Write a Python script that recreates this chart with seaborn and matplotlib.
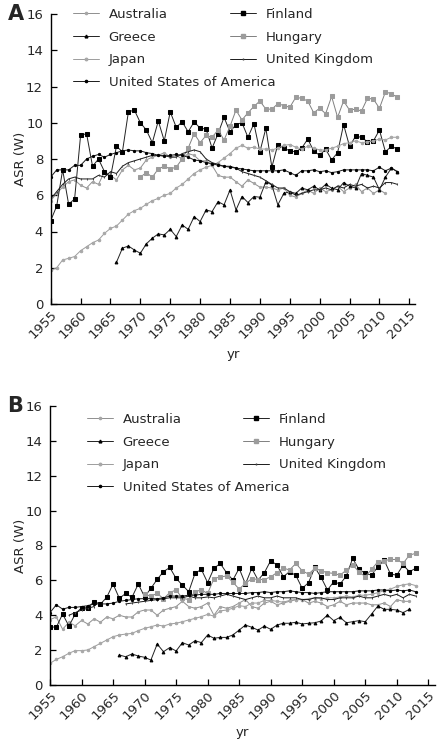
import numpy as np
import pandas as pd
import matplotlib
matplotlib.use("Agg")
import matplotlib.pyplot as plt
import seaborn as sns
from matplotlib.lines import Line2D

sns.set_theme(style="ticks")
plt.rcParams['font.family'] = ['DejaVu Sans']

N = np.nan
years = list(range(1955, 2014))
xticks = list(range(1955, 2016, 5))
yticks = list(range(0, 17, 2))
countries = ["Australia", "Finland", "Greece", "Hungary", "Japan",
             "United Kingdom", "United States of America"]

# ---------------- Panel A ----------------
aus_a = [5.7, 6.1, 6.45, 6.75, 6.85, 6.55, 6.4, 6.75, 6.6, 7.3,
         7.1, 6.85, 7.4, 7.65, 7.4, 7.5, 7.95, 8.1, 8.2, 8.35,
         8.1, 8.2, 8.0, 8.3, 8.2, 7.9, 7.9, 7.65, 7.1, 7.0,
         7.0, 6.75, 6.5, 6.85, 6.65, 6.45, 6.45, 6.4, 6.3, 6.4,
         6.0, 5.9, 6.1, 6.3, 6.1, 6.4, 6.2, 6.3, 6.5, 6.2,
         6.4, 6.6, 6.2, 6.4, 6.1, 6.3, 6.1, N, N]
fin_a = [4.6, 5.4, 7.4, 5.5, 5.8, 9.3, 9.4, 7.6, 8.0, 7.3,
         7.0, 8.7, 8.4, 10.6, 10.7, 10.0, 9.6, 8.9, 10.1, 9.0,
         10.6, 9.75, 10.05, 9.5, 10.05, 9.7, 9.65, 8.6, 9.4, 10.3,
         9.5, 9.9, 10.0, 9.2, 9.95, 8.4, 9.7, 7.55, 8.8, 8.6,
         8.45, 8.4, 8.6, 9.1, 8.45, 8.2, 8.55, 7.95, 8.35, 9.9,
         8.7, 9.25, 9.2, 8.95, 9.0, 9.6, 8.4, 8.7, 8.55]
gre_a = [N] * 11 + [2.3, 3.08, 3.2, 2.98, 2.8, 3.32, 3.63, 3.87, 3.81,
         4.12, 3.72, 4.36, 4.12, 4.82, 4.55, 5.19, 5.1, 5.65, 5.47,
         6.29, 5.19, 5.93, 5.6, 5.93, 5.89, 6.75, 6.57, 5.47, 6.1,
         6.2, 6.1, 6.4, 6.3, 6.5, 6.3, 6.6, 6.4, 6.3, 6.7,
         6.5, 6.4, 7.2, 7.1, 7.0, 6.3, 7.0, 7.5, 7.3]
hun_a = [N] * 15 + [7.0, 7.25, 7.0, 7.45, 7.6,
         7.45, 7.55, 8.0, 8.6, 9.4, 8.9, 9.3, 9.2, 9.6, 9.05,
         9.8, 10.7, 10.15, 10.55, 10.9, 11.2, 10.75, 10.75, 11.05, 10.95,
         10.85, 11.4, 11.35, 11.2, 10.55, 10.8, 10.5, 11.45, 10.3, 11.2,
         10.7, 10.75, 10.65, 11.35, 11.3, 10.8, 11.7, 11.6, 11.4]
jpn_a = [1.85, 2.0, 2.43, 2.52, 2.62, 2.94, 3.16, 3.38, 3.53, 3.9,
         4.17, 4.3, 4.63, 4.96, 5.15, 5.28, 5.5, 5.7, 5.83, 6.0,
         6.1, 6.4, 6.6, 6.9, 7.2, 7.4, 7.55, 7.65, 7.8, 8.05,
         8.3, 8.6, 8.75, 8.6, 8.65, 8.55, 8.55, 8.5, 8.6, 8.75,
         8.8, 8.65, 8.55, 8.7, 8.6, 8.5, 8.5, 8.6, 8.7, 8.85,
         8.9, 9.0, 8.9, 8.95, 9.0, 9.1, 9.05, 9.2, 9.2]
uk_a = [5.8, 6.2, 6.6, 6.9, 7.0, 6.9, 6.9, 6.9, 7.1, 7.0,
        7.3, 7.2, 7.6, 7.8, 7.9, 8.0, 8.1, 8.2, 8.2, 8.2,
        8.1, 8.1, 8.3, 8.4, 8.5, 8.4, 8.0, 7.8, 7.7, 7.6,
        7.6, 7.5, 7.3, 7.2, 7.1, 7.0, 6.8, 6.6, 6.4, 6.4,
        6.2, 6.0, 6.1, 6.2, 6.3, 6.3, 6.4, 6.3, 6.5, 6.4,
        6.6, 6.5, 6.6, 6.4, 6.5, 6.4, 6.7, 6.7, 6.6]
usa_a = [7.0, 7.4, 7.4, 7.4, 7.65, 7.65, 8.0, 8.15, 8.25, 8.1,
         8.25, 8.35, 8.45, 8.5, 8.45, 8.45, 8.35, 8.3, 8.2, 8.15,
         8.2, 8.25, 8.2, 8.1, 7.95, 7.9, 7.8, 7.75, 7.65, 7.6,
         7.55, 7.5, 7.45, 7.4, 7.35, 7.35, 7.35, 7.35, 7.35, 7.4,
         7.25, 7.1, 7.35, 7.35, 7.4, 7.3, 7.35, 7.25, 7.3, 7.4,
         7.4, 7.4, 7.4, 7.4, 7.35, 7.55, 7.35, 7.5, 7.3]

# ---------------- Panel B ----------------
aus_b = [3.75, 3.9, 3.2, 3.6, 3.4, 3.7, 3.5, 3.8, 3.6, 3.9,
         3.8, 4.0, 3.9, 3.9, 4.2, 4.3, 4.3, 4.0, 4.3, 4.4,
         4.5, 4.8, 4.5, 4.4, 4.5, 4.7, 4.0, 4.5, 4.4, 4.5,
         4.7, 4.9, 4.5, 4.4, 4.7, 4.8, 4.6, 4.7, 4.8, 4.9,
         4.9, 4.7, 4.8, 4.7, 4.5, 4.6, 4.8, 4.6, 4.7, 4.7,
         4.7, 4.6, 4.6, 4.7, 4.5, 4.9, 4.8, 4.8, N]
fin_b = [3.34, 3.31, 4.07, 3.38, 4.07, 4.43, 4.43, 4.78, 4.64, 5.03,
         5.79, 4.97, 5.25, 5.03, 5.79, 5.06, 5.54, 6.06, 6.5, 6.74,
         6.11, 5.73, 5.35, 6.4, 6.63, 5.87, 6.69, 6.97, 6.44, 6.02,
         6.69, 5.79, 6.69, 6.02, 6.44, 7.13, 6.88, 6.21, 6.5, 6.28,
         5.54, 5.87, 6.74, 6.17, 5.45, 5.92, 5.79, 6.25, 7.26, 6.63,
         6.4, 6.3, 6.78, 7.16, 6.36, 6.3, 6.88, 6.5, 6.69]
gre_b = [N] * 11 + [1.72, 1.62, 1.78, 1.66, 1.59, 1.43, 2.35, 1.91, 2.15,
         1.95, 2.43, 2.29, 2.54, 2.43, 2.87, 2.68, 2.73, 2.73, 2.87,
         3.15, 3.44, 3.31, 3.15, 3.38, 3.19, 3.44, 3.54, 3.54, 3.6,
         3.5, 3.54, 3.57, 3.67, 4.01, 3.69, 3.88, 3.57, 3.63, 3.69,
         3.63, 4.07, 4.53, 4.34, 4.34, 4.3, 4.15, 4.34, N]
hun_b = [N] * 15 + [5.2, 5.1, 5.25, 4.95, 5.3,
         5.45, 4.97, 4.9, 5.35, 5.45, 5.25, 6.1, 6.2, 6.25, 5.9,
         5.5, 5.83, 6.1, 6.05, 6.05, 6.2, 6.45, 6.7, 6.6, 6.97,
         6.55, 6.36, 6.69, 6.55, 6.44, 6.4, 6.3, 6.59, 6.88, 6.5,
         6.21, 6.63, 7.07, 7.13, 7.2, 7.2, 6.97, 7.45, 7.55]
jpn_b = [1.24, 1.47, 1.62, 1.82, 1.97, 1.97, 2.01, 2.2, 2.39, 2.58,
         2.77, 2.87, 2.92, 2.96, 3.12, 3.25, 3.34, 3.44, 3.38, 3.5,
         3.54, 3.63, 3.73, 3.82, 3.92, 4.05, 3.95, 4.25, 4.3, 4.4,
         4.55, 4.5, 4.7, 4.7, 4.85, 4.85, 4.8, 4.75, 4.85, 4.9,
         4.9, 4.95, 5.0, 4.95, 5.0, 5.0, 5.05, 5.1, 5.05, 5.15,
         5.15, 5.2, 5.3, 5.4, 5.5, 5.65, 5.75, 5.8, 5.7]
uk_b = [N, N, N, 4.0, 4.15, 4.3, 4.4, 4.5, N, N,
        N, N, 4.65, 4.7, 4.75, 4.8, 4.85, 4.9, 4.95, 5.0,
        5.0, 5.0, 5.1, 5.0, 5.0, 5.05, 5.0, 5.1, 5.2, 5.1,
        5.0, 4.9, 5.0, 5.1, 5.0, 5.0, 5.1, 5.0, 5.0, 5.0,
        4.9, 4.9, 5.0, 5.0, 4.9, 4.9, 5.0, 5.0, 5.0, 5.1,
        5.0, 5.0, 5.1, 5.2, 5.1, 5.2, 5.0, 5.2, 5.1]
usa_b = [4.15, 4.6, 4.35, 4.45, 4.45, 4.5, 4.55, 4.65, 4.65, 4.65,
         4.7, 4.8, 4.85, 4.9, 4.95, 4.95, 4.95, 4.95, 5.0, 5.1,
         5.1, 5.1, 5.15, 5.15, 5.2, 5.2, 5.2, 5.25, 5.25, 5.25,
         5.25, 5.25, 5.3, 5.3, 5.35, 5.3, 5.35, 5.35, 5.4, 5.35,
         5.3, 5.3, 5.25, 5.3, 5.35, 5.35, 5.35, 5.35, 5.35, 5.4,
         5.4, 5.4, 5.45, 5.45, 5.4, 5.45, 5.4, 5.45, 5.35]

panel_a = dict(zip(countries, [aus_a, fin_a, gre_a, hun_a, jpn_a, uk_a, usa_a]))
panel_b = dict(zip(countries, [aus_b, fin_b, gre_b, hun_b, jpn_b, uk_b, usa_b]))

styles = {
    "Australia": dict(color="#8f8f8f", marker="o", markersize=1.6,
                      markerfacecolor="#a6a6a6", markeredgecolor="#a6a6a6", linewidth=0.7),
    "Finland": dict(color="#222222", marker="s", markersize=3.0,
                    markerfacecolor="black", markeredgecolor="black", linewidth=0.7),
    "Greece": dict(color="#222222", marker="^", markersize=2.0,
                   markerfacecolor="black", markeredgecolor="black", linewidth=0.7),
    "Hungary": dict(color="#808080", marker="s", markersize=2.6,
                    markerfacecolor="#9c9c9c", markeredgecolor="#9c9c9c", linewidth=0.7),
    "Japan": dict(color="#9c9c9c", marker="o", markersize=1.8,
                  markerfacecolor="#a8a8a8", markeredgecolor="#a8a8a8", linewidth=0.7),
    "United Kingdom": dict(color="#1a1a1a", marker="|", markersize=1.5,
                           markerfacecolor="black", markeredgecolor="#444444", linewidth=0.7),
    "United States of America": dict(color="#1a1a1a", marker="o", markersize=1.6,
                                     markerfacecolor="black", markeredgecolor="black", linewidth=0.7),
}

FS = 9.5


def draw(ax, data):
    for c in countries:
        vals = np.asarray(data[c], dtype=float)
        df = pd.DataFrame({"yr": years, "v": vals})
        ok = df["v"].notna()
        grp = (~ok).cumsum()
        for _, seg in df[ok].groupby(grp[ok]):
            sns.lineplot(data=seg, x="yr", y="v", ax=ax, estimator=None,
                         sort=False, legend=False, **styles[c])


def finish(ax, xmax, col1_x, col2_x, leg_y, label, lab_x, xl_y, yl_x):
    ax.set_xlim(1955, xmax)
    ax.set_ylim(0, 16)
    ax.set_xticks(xticks)
    ax.set_yticks(yticks)
    ax.set_xticklabels([str(t) for t in xticks], rotation=45,
                       ha="right", va="top", rotation_mode="anchor", fontsize=FS)
    ax.set_yticklabels([str(t) for t in yticks], fontsize=FS)
    ax.tick_params(axis="both", direction="in", length=4, width=0.9, color="black")
    ax.tick_params(axis="y", pad=5.5)
    ax.tick_params(axis="x", pad=3)
    for s in ["top", "right"]:
        ax.spines[s].set_visible(False)
    for s in ["left", "bottom"]:
        ax.spines[s].set_linewidth(1.0)
        ax.spines[s].set_color("black")
    ax.set_xlabel("yr", fontsize=FS)
    ax.set_ylabel("ASR (W)", fontsize=FS)
    ax.xaxis.set_label_coords(0.5, xl_y)
    ax.yaxis.set_label_coords(yl_x, 0.5)

    def handle(c):
        return Line2D([], [], **styles[c])

    col1 = ["Australia", "Greece", "Japan", "United States of America"]
    col2 = ["Finland", "Hungary", "United Kingdom"]
    kw = dict(frameon=False, fontsize=FS, handlelength=1.95, handletextpad=0.75,
              labelspacing=0.73, borderpad=0, borderaxespad=0, loc="upper left")
    leg1 = ax.legend([handle(c) for c in col1], col1,
                     bbox_to_anchor=(col1_x, leg_y), **kw)
    ax.add_artist(leg1)
    ax.legend([handle(c) for c in col2], col2,
              bbox_to_anchor=(col2_x, leg_y), **kw)
    ax.text(lab_x, 1.0, label, transform=ax.transAxes, fontsize=15,
            fontweight="bold", ha="center", va="center")


W, H = 446, 755
fig = plt.figure(figsize=(W / 100, H / 100), dpi=100)
axA = fig.add_axes([50.7 / W, (H - 304) / H, (415 - 50.7) / W, 290 / H])
axB = fig.add_axes([50.0 / W, (H - 685) / H, (435 - 50.0) / W, 279 / H])

draw(axA, panel_a)
draw(axB, panel_b)

finish(axA, 2015.95, 0.061, 0.492, 1.021, "A", -0.095, -0.152, -0.065)
finish(axB, 2016.06, 0.096, 0.501, 0.975, "B", -0.090, -0.147, -0.060)

fig.savefig("out.png", dpi=100)
